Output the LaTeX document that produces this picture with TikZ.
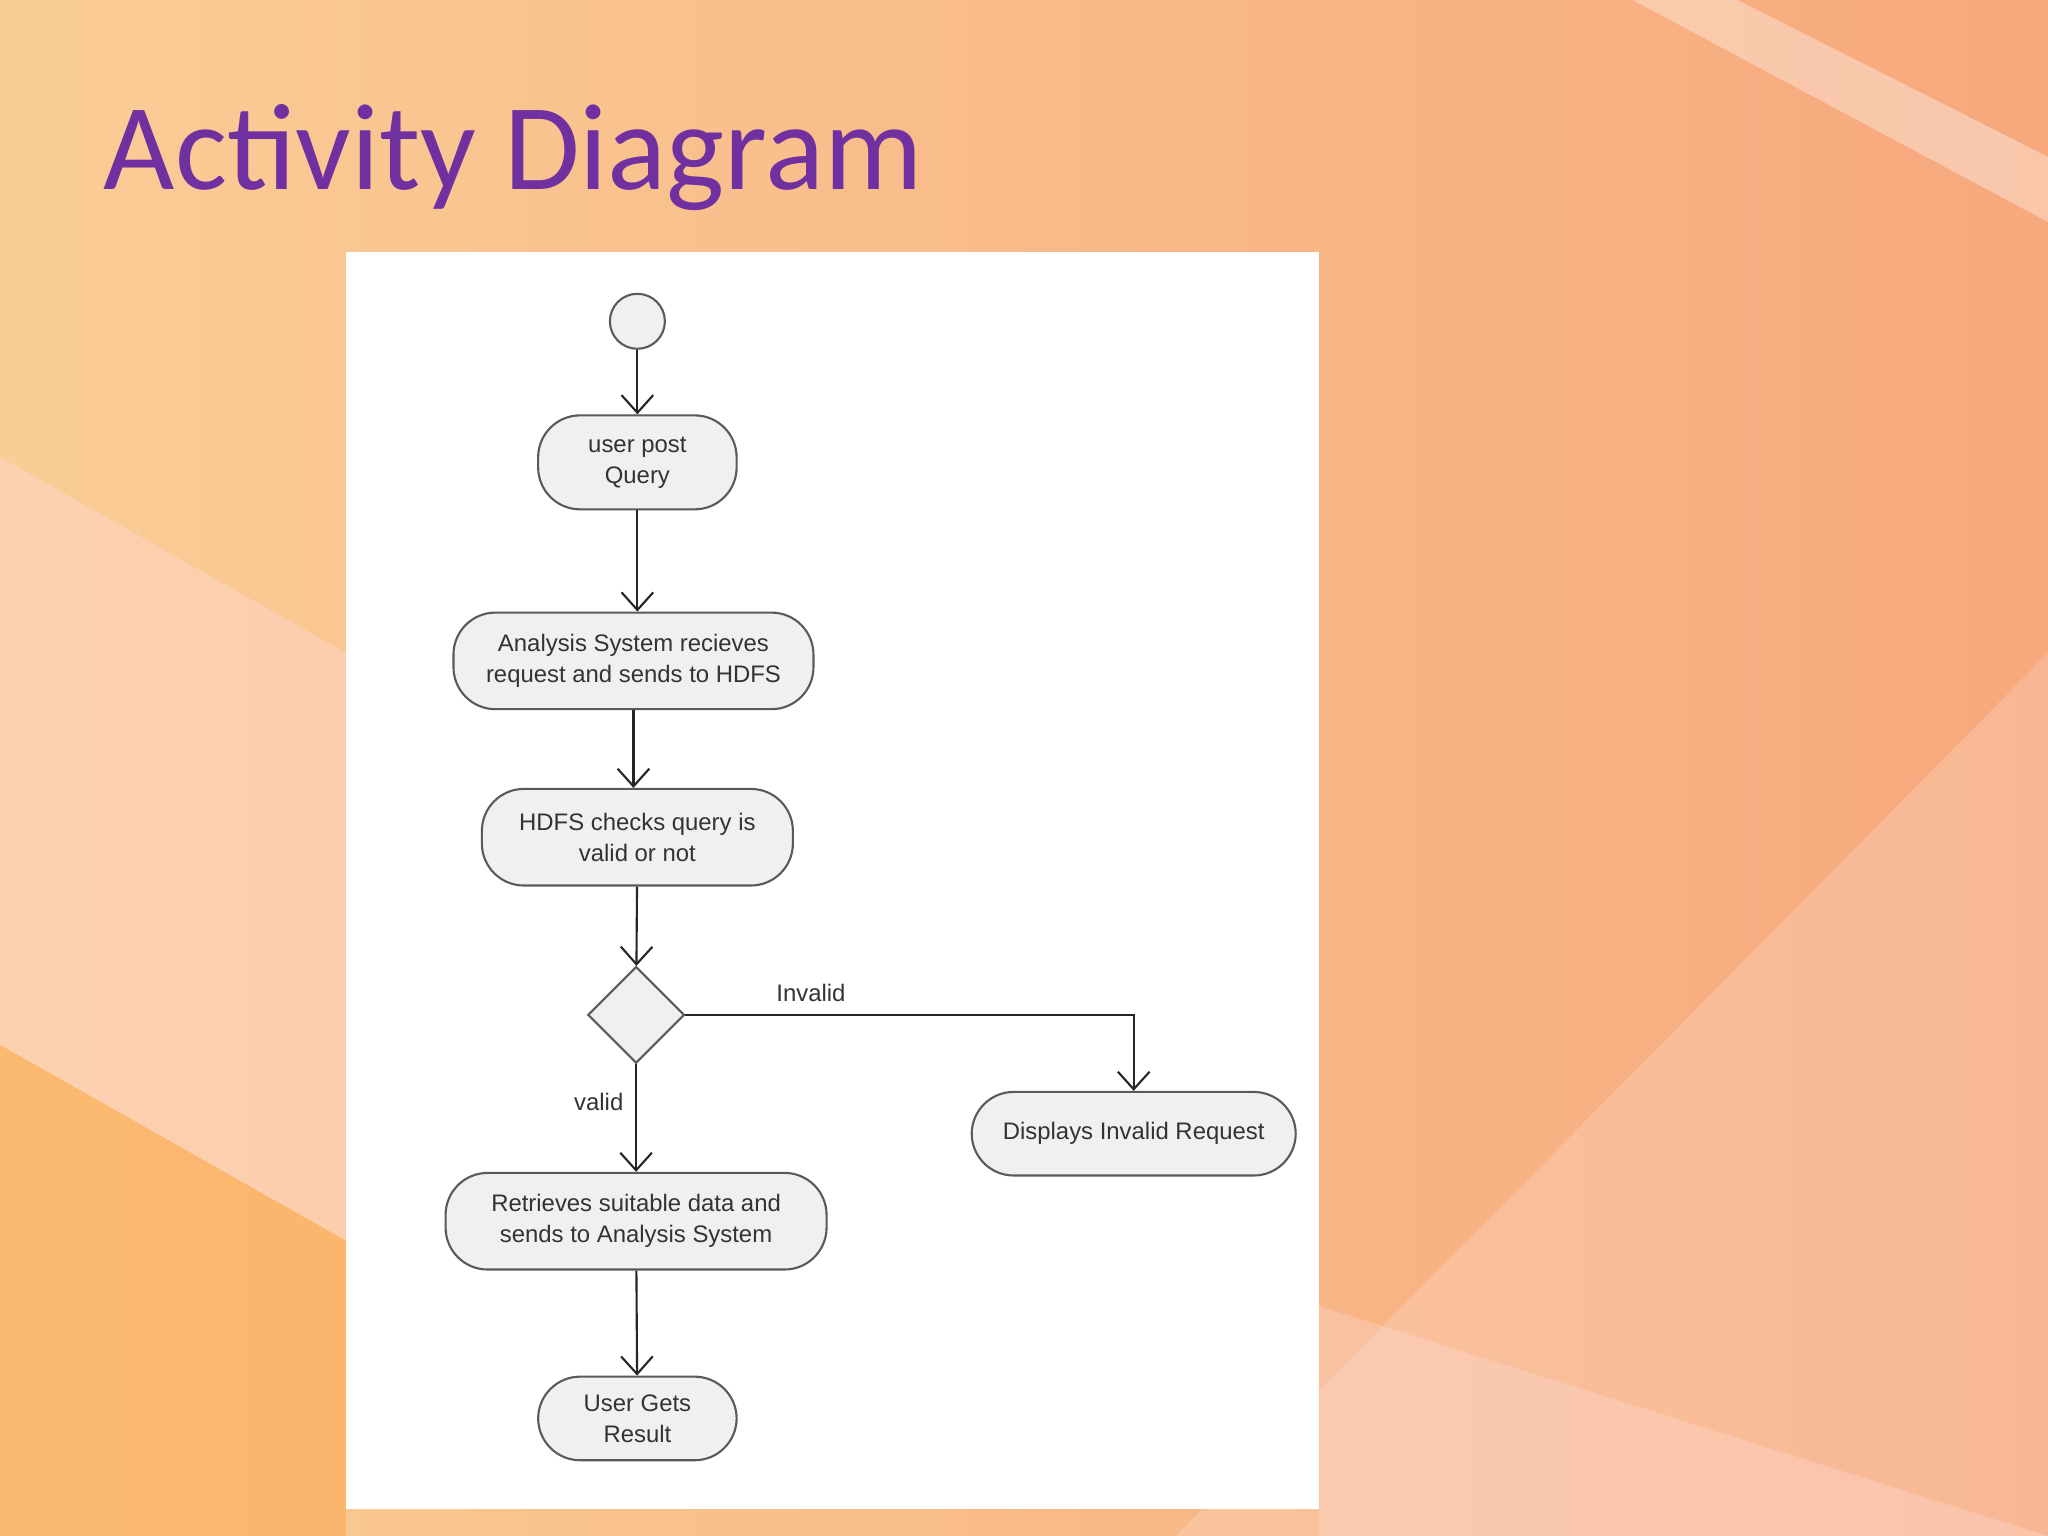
\documentclass[tikz,border=0pt]{standalone}
\usepackage{fontspec}
\setmainfont{Liberation Sans}
\newfontfamily\titlefont{Carlito}
\usetikzlibrary{shapes.geometric,arrows.meta}
\definecolor{ttl}{RGB}{112,48,160}
\definecolor{bgA}{RGB}{250,205,150}
\definecolor{bgB}{RGB}{247,168,125}
\definecolor{boxfill}{RGB}{240,240,240}
\definecolor{boxline}{RGB}{90,90,90}
\tikzset{
  act/.style={draw=boxline, fill=boxfill, rounded corners=0.42cm, line width=0.6pt,
    align=center, font=\fontsize{6.8}{8.8}\selectfont, text=black!80, inner sep=1pt},
  flow/.style={draw=black!85, line width=0.6pt, -{Straight Barb[length=5pt,width=9pt]}},
  lbl/.style={font=\fontsize{6.8}{8.8}\selectfont, text=black!80}
}
\begin{document}
\begin{tikzpicture}[x=0.01306cm,y=-0.01306cm]
\useasboundingbox (0,0) rectangle (1568,1176);
% background
\shade[left color=bgA, right color=bgB] (0,0) rectangle (1568,1176);
\fill[white, opacity=0.35] (1250,0) -- (1568,170) -- (1568,120) -- (1330,0) -- cycle;
\fill[white, opacity=0.18] (1568,200) -- (1568,1176) -- (900,1176) -- (1568,500) -- cycle;
\fill[pink!60!white, opacity=0.4] (0,350) -- (265,500) -- (265,950) -- (0,800) -- cycle;
\fill[orange!50!bgA, opacity=0.5] (0,800) -- (265,950) -- (265,1176) -- (0,1176) -- cycle;
\fill[pink!50!white, opacity=0.3] (1010,1000) -- (1568,1176) -- (1010,1176) -- cycle;
% title
\node[anchor=base west, font=\titlefont\fontsize{35}{40}\selectfont, text=ttl] (title) at (70,145) {Activity Diagram};
% panel
\fill[white] (265,193) rectangle (1010,1155);
% nodes
\node[circle, draw=boxline, fill=boxfill, minimum size=0.55cm, inner sep=0, line width=0.6pt] (start) at (488,246) {};
\node[act, minimum width=1.985cm, minimum height=0.94cm] (q) at (488,354) {user post\\Query};
\node[act, minimum width=3.60cm, minimum height=0.966cm] (a) at (485,506) {Analysis System recieves\\request and sends to HDFS};
\node[act, minimum width=3.11cm, minimum height=0.966cm] (h) at (488,641) {HDFS checks query is\\valid or not};
\node[diamond, draw=boxline, fill=boxfill, minimum width=0.966cm, minimum height=0.966cm, inner sep=0, line width=0.6pt] (d) at (487,777) {};
\node[act, minimum width=3.81cm, minimum height=0.966cm] (r) at (487,935) {Retrieves suitable data and\\sends to Analysis System};
\node[act, minimum width=1.985cm, minimum height=0.836cm] (u) at (488,1086) {User Gets\\Result};
\node[act, minimum width=3.24cm, minimum height=0.836cm] (inv) at (868,868) {Displays Invalid Request};
% edges
\draw[flow] (start) -- (q);
\draw[flow] (q) -- (a.north -| q);
\draw[flow] (a) -- (h.north -| a);
\draw[flow] (h) -- (d);
\draw[flow] (d) -- node[lbl, pos=0.35, left] {valid} (r);
\draw[flow] (r) -- (u);
\draw[flow] (d.east) -| node[lbl, pos=0.14, above] {Invalid} (inv.north);
\end{tikzpicture}
\end{document}
